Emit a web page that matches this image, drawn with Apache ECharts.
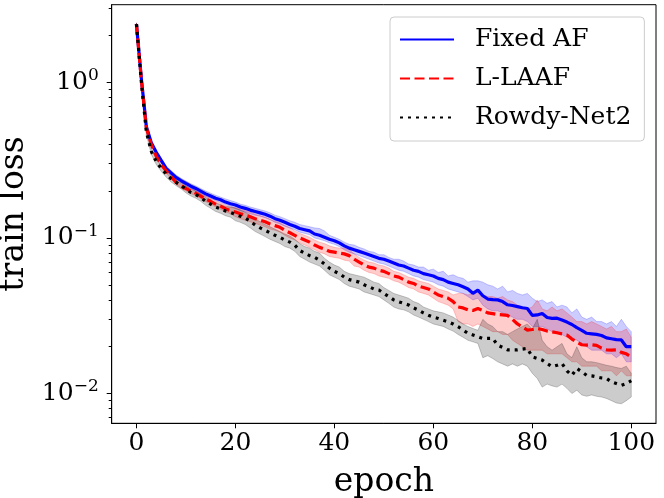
<!DOCTYPE html>
<html>
<head>
<meta charset="utf-8">
<title>train loss</title>
<script src="https://cdn.jsdelivr.net/npm/echarts@6/dist/echarts.min.js"></script>
<style>
  html, body { margin: 0; padding: 0; background: #fff; }
  #main { width: 664px; height: 498px; }
</style>
</head>
<body>
<div id="main"></div>
<script>
var epochs = [];
for (var e = 0; e <= 100; e++) epochs.push(e);

var xTicks = [0, 20, 40, 60, 80, 100];
var yTicks = [0.01, 0.1, 1];
var yMinorTicks = [0.007, 0.008, 0.009, 0.02, 0.03, 0.04, 0.05, 0.06, 0.07, 0.08, 0.09,
    0.2, 0.3, 0.4, 0.5, 0.6, 0.7, 0.8, 0.9, 2, 3];
var yMin = 0.00644, yMax = 3.155;

var fixedMean = [2.37,1.05,0.52,0.41,0.355,0.315,0.280,0.262,0.245,0.234,
    0.224,0.215,0.208,0.200,0.192,0.186,0.180,0.176,0.170,0.166,
    0.163,0.158,0.155,0.151,0.148,0.145,0.142,0.138,0.133,0.130,
    0.126,0.122,0.119,0.115,0.113,0.111,0.106,0.104,0.101,0.098,
    0.096,0.093,0.089,0.086,0.084,0.082,0.080,0.078,0.076,0.074,
    0.073,0.071,0.069,0.067,0.066,0.064,0.062,0.061,0.059,0.058,
    0.057,0.055,0.054,0.052,0.051,0.050,0.0486,0.0470,0.0441,0.0462,
    0.0425,0.0405,0.0402,0.0400,0.0390,0.0372,0.0368,0.0362,0.0356,0.0352,
    0.0318,0.0320,0.0327,0.0308,0.0304,0.0305,0.0297,0.0288,0.0278,0.0265,
    0.0255,0.0244,0.0242,0.0240,0.0236,0.0228,0.0225,0.0222,0.0221,0.0200,
    0.0200];
var fixedLow = [2.33,1.02,0.50,0.40,0.345,0.305,0.272,0.254,0.238,0.227,
    0.217,0.208,0.201,0.193,0.185,0.180,0.174,0.170,0.164,0.160,
    0.155,0.150,0.147,0.143,0.140,0.138,0.135,0.131,0.126,0.123,
    0.119,0.116,0.113,0.109,0.107,0.105,0.100,0.098,0.096,0.093,
    0.091,0.088,0.084,0.081,0.079,0.077,0.075,0.073,0.071,0.069,
    0.068,0.066,0.064,0.062,0.061,0.059,0.057,0.056,0.054,0.053,
    0.052,0.050,0.049,0.047,0.046,0.045,0.044,0.042,0.040,0.041,
    0.037,0.035,0.034,0.034,0.033,0.032,0.031,0.030,0.030,0.029,
    0.027,0.027,0.027,0.026,0.025,0.025,0.024,0.023,0.023,0.022,
    0.021,0.020,0.019,0.019,0.019,0.018,0.018,0.017,0.018,0.016,
    0.016];
var fixedHigh = [2.41,1.08,0.54,0.42,0.365,0.325,0.290,0.271,0.254,0.242,
    0.232,0.223,0.216,0.208,0.200,0.194,0.188,0.183,0.178,0.174,
    0.170,0.165,0.162,0.158,0.155,0.152,0.149,0.145,0.140,0.137,
    0.133,0.129,0.126,0.122,0.120,0.118,0.116,0.115,0.111,0.104,
    0.101,0.098,0.094,0.091,0.090,0.087,0.085,0.082,0.081,0.078,
    0.078,0.075,0.073,0.073,0.071,0.068,0.067,0.065,0.065,0.062,
    0.063,0.060,0.061,0.057,0.058,0.056,0.055,0.052,0.053,0.053,
    0.052,0.050,0.049,0.047,0.049,0.045,0.046,0.044,0.043,0.044,
    0.041,0.039,0.040,0.038,0.039,0.036,0.037,0.036,0.033,0.035,
    0.031,0.030,0.031,0.029,0.029,0.028,0.029,0.027,0.030,0.027,
    0.025];

var laafMean = [2.37,1.03,0.51,0.40,0.335,0.296,0.270,0.248,0.228,0.216,
    0.208,0.200,0.194,0.186,0.178,0.172,0.165,0.160,0.154,0.150,
    0.147,0.143,0.140,0.137,0.133,0.130,0.127,0.123,0.120,0.117,
    0.112,0.108,0.104,0.100,0.097,0.094,0.090,0.087,0.085,0.082,
    0.081,0.080,0.079,0.077,0.073,0.070,0.067,0.065,0.064,0.062,
    0.061,0.059,0.057,0.056,0.054,0.052,0.051,0.049,0.048,0.047,
    0.045,0.043,0.042,0.041,0.039,0.036,0.0355,0.0345,0.0342,0.0352,
    0.0342,0.0330,0.0326,0.0322,0.0320,0.0318,0.0300,0.0280,0.0268,0.0256,
    0.0258,0.0262,0.0258,0.0252,0.0249,0.0246,0.0242,0.0238,0.0224,0.0214,
    0.0206,0.0205,0.0206,0.0204,0.0196,0.0191,0.0190,0.0191,0.0184,0.0180,
    0.0172];
var laafLow = [2.33,1.00,0.49,0.39,0.326,0.288,0.262,0.240,0.221,0.209,
    0.201,0.193,0.187,0.179,0.171,0.165,0.158,0.153,0.147,0.143,
    0.137,0.133,0.130,0.127,0.124,0.121,0.118,0.114,0.112,0.109,
    0.104,0.100,0.097,0.093,0.090,0.087,0.084,0.081,0.079,0.076,
    0.075,0.074,0.072,0.071,0.066,0.065,0.062,0.060,0.059,0.057,
    0.056,0.055,0.053,0.052,0.050,0.048,0.047,0.045,0.044,0.043,
    0.041,0.039,0.038,0.037,0.035,0.029,0.028,0.028,0.027,0.028,
    0.027,0.026,0.025,0.025,0.024,0.024,0.022,0.021,0.020,0.019,
    0.019,0.019,0.019,0.018,0.018,0.018,0.018,0.017,0.016,0.016,
    0.015,0.015,0.015,0.015,0.014,0.014,0.014,0.013,0.014,0.013,
    0.013];
var laafHigh = [2.41,1.06,0.53,0.41,0.345,0.305,0.279,0.257,0.236,0.224,
    0.216,0.208,0.202,0.194,0.186,0.180,0.173,0.168,0.162,0.158,
    0.157,0.153,0.150,0.147,0.142,0.139,0.136,0.132,0.128,0.125,
    0.120,0.116,0.111,0.107,0.104,0.101,0.097,0.094,0.092,0.089,
    0.087,0.086,0.086,0.084,0.079,0.075,0.072,0.070,0.069,0.067,
    0.066,0.064,0.061,0.060,0.058,0.056,0.055,0.053,0.052,0.051,
    0.049,0.047,0.046,0.045,0.043,0.044,0.044,0.043,0.044,0.046,
    0.043,0.042,0.042,0.041,0.042,0.040,0.039,0.037,0.036,0.035,
    0.036,0.040,0.035,0.034,0.036,0.034,0.035,0.033,0.031,0.029,
    0.029,0.028,0.029,0.028,0.027,0.026,0.027,0.025,0.025,0.026,
    0.023];

var rowdyMean = [2.37,1.00,0.48,0.36,0.31,0.28,0.258,0.240,0.228,0.218,
    0.206,0.196,0.190,0.182,0.172,0.165,0.158,0.154,0.149,0.146,
    0.142,0.138,0.134,0.128,0.121,0.116,0.112,0.108,0.104,0.101,
    0.097,0.094,0.090,0.083,0.080,0.077,0.075,0.072,0.068,0.064,
    0.061,0.059,0.056,0.054,0.053,0.052,0.050,0.0486,0.047,0.0463,
    0.044,0.042,0.040,0.0389,0.038,0.0371,0.0355,0.0344,0.033,0.0319,
    0.031,0.0304,0.0296,0.0289,0.028,0.0269,0.0256,0.0244,0.0238,0.0232,
    0.0226,0.0226,0.0226,0.0205,0.0198,0.0191,0.0191,0.0191,0.0193,0.0195,
    0.0172,0.0168,0.0164,0.0156,0.0149,0.0152,0.0156,0.0140,0.0131,0.0145,
    0.0138,0.0131,0.0130,0.0128,0.0126,0.0125,0.0119,0.0116,0.0113,0.0116,
    0.0121];
var rowdyLow = [2.33,0.97,0.46,0.345,0.297,0.268,0.246,0.229,0.217,0.207,
    0.195,0.186,0.180,0.172,0.162,0.155,0.148,0.144,0.139,0.136,
    0.129,0.126,0.122,0.116,0.110,0.106,0.102,0.098,0.095,0.092,
    0.088,0.086,0.082,0.076,0.073,0.070,0.068,0.066,0.062,0.058,
    0.056,0.054,0.051,0.049,0.048,0.047,0.045,0.044,0.043,0.042,
    0.040,0.038,0.036,0.035,0.0345,0.0335,0.032,0.031,0.030,0.029,
    0.028,0.0275,0.027,0.026,0.0252,0.024,0.023,0.022,0.0215,0.021,
    0.017,0.0175,0.0168,0.016,0.0155,0.015,0.0155,0.0150,0.0155,0.0150,
    0.0135,0.0125,0.0110,0.0115,0.0112,0.0110,0.0115,0.0108,0.0100,0.0105,
    0.0098,0.0096,0.0098,0.0096,0.0095,0.0093,0.0090,0.0087,0.0086,0.0090,
    0.0095];
var rowdyHigh = [2.41,1.03,0.50,0.375,0.323,0.292,0.270,0.251,0.239,0.229,
    0.217,0.206,0.200,0.192,0.182,0.176,0.168,0.164,0.159,0.158,
    0.155,0.151,0.146,0.140,0.133,0.127,0.122,0.118,0.114,0.110,
    0.106,0.103,0.098,0.092,0.088,0.086,0.082,0.080,0.074,0.070,
    0.067,0.065,0.061,0.059,0.058,0.057,0.056,0.054,0.052,0.051,
    0.048,0.046,0.044,0.043,0.042,0.041,0.039,0.038,0.036,0.035,
    0.034,0.0335,0.033,0.032,0.031,0.0295,0.028,0.027,0.0262,0.0255,
    0.030,0.028,0.027,0.025,0.025,0.024,0.025,0.026,0.027,0.028,
    0.026,0.030,0.022,0.020,0.019,0.020,0.021,0.018,0.017,0.020,
    0.017,0.016,0.016,0.0158,0.0155,0.0152,0.0150,0.0147,0.0145,0.0150,
    0.0135];

var FONT = 'DejaVu Serif';

function pairs(vals) {
    return epochs.map(function (x, i) { return [x, vals[i]]; });
}

// shaded band between low and high, drawn as one polygon via the axis scales
function band(name, low, high, fill) {
    return {
        name: name,
        type: 'custom',
        z: 1,
        silent: true,
        data: [[50, 0.05]],
        renderItem: function (params, api) {
            var pts = [];
            for (var i = 0; i < epochs.length; i++) pts.push(api.coord([epochs[i], high[i]]));
            for (var j = epochs.length - 1; j >= 0; j--) pts.push(api.coord([epochs[j], low[j]]));
            return {
                type: 'polygon',
                shape: { points: pts },
                style: { fill: fill, stroke: fill, lineWidth: 1 }
            };
        }
    };
}

function line(name, vals, color, dash) {
    return {
        name: name,
        type: 'line',
        z: 3,
        data: pairs(vals),
        symbol: 'none',
        showSymbol: false,
        itemStyle: { color: color },
        lineStyle: { color: color, width: 3.2, type: dash }
    };
}

var chart = echarts.init(document.getElementById('main'));

var option = {
    animation: false,
    backgroundColor: '#fff',
    grid: {
        left: 111.7, right: 8, top: 4.7, bottom: 74.7,
        outerBoundsMode: 'none',
        containLabel: false,
        show: true, borderColor: '#000', borderWidth: 1
    },
    legend: {
        data: ['Fixed AF', 'L-LAAF', 'Rowdy-Net2'],
        orient: 'vertical',
        left: 390, top: 17,
        padding: [10, 13, 11, 9],
        itemWidth: 54, itemHeight: 14, itemGap: 14,
        itemStyle: { opacity: 0 },
        formatter: function (name) { return '  ' + name; },
        backgroundColor: 'rgba(255,255,255,0.8)',
        borderColor: '#cccccc', borderWidth: 1, borderRadius: 4,
        textStyle: { fontFamily: FONT, fontSize: 25, color: '#000' }
    },
    xAxis: {
        type: 'value',
        min: -5, max: 105,
        name: 'epoch',
        nameLocation: 'middle',
        nameGap: 43,
        nameTextStyle: { fontFamily: FONT, fontSize: 33, color: '#000' },
        axisLine: { show: true, onZero: false, lineStyle: { color: '#000', width: 1 } },
        axisTick: { show: true, customValues: xTicks, length: 5, lineStyle: { color: '#000', width: 1 } },
        axisLabel: { customValues: xTicks, fontFamily: FONT, fontSize: 25, color: '#000', margin: 8 },
        splitLine: { show: false }
    },
    yAxis: [{
        type: 'log',
        logBase: 10,
        min: yMin, max: yMax,
        name: 'train loss',
        nameLocation: 'middle',
        nameRotate: 90,
        nameGap: 80,
        nameTextStyle: { fontFamily: FONT, fontSize: 33, color: '#000' },
        axisLine: { show: true, onZero: false, lineStyle: { color: '#000', width: 1 } },
        axisTick: { show: true, customValues: yTicks, length: 5, lineStyle: { color: '#000', width: 1 } },
        axisLabel: {
            customValues: yTicks,
            margin: 13,
            formatter: function (v) {
                var p = Math.round(Math.log10(v));
                return '{b|10}{s|' + (p < 0 ? '\u2212' + (-p) : p) + '}';
            },
            rich: {
                b: { fontFamily: FONT, fontSize: 25, color: '#000', lineHeight: 30 },
                s: { fontFamily: FONT, fontSize: 17, color: '#000', lineHeight: 17, verticalAlign: 'top' }
            }
        },
        splitLine: { show: false }
    }, {
        type: 'log',
        logBase: 10,
        min: yMin, max: yMax,
        position: 'left',
        axisLine: { show: false, onZero: false },
        axisTick: { show: true, customValues: yMinorTicks, length: 3, lineStyle: { color: '#000', width: 1 } },
        axisLabel: { show: false },
        splitLine: { show: false }
    }],
    series: [
        band('Fixed AF band', fixedLow, fixedHigh, 'rgba(0,0,255,0.2)'),
        band('L-LAAF band', laafLow, laafHigh, 'rgba(255,0,0,0.2)'),
        band('Rowdy-Net2 band', rowdyLow, rowdyHigh, 'rgba(0,0,0,0.2)'),
        line('Fixed AF', fixedMean, '#0000ff', 'solid'),
        line('L-LAAF', laafMean, '#ff0000', [10, 4.5]),
        line('Rowdy-Net2', rowdyMean, '#000000', [3, 5])
    ]
};

if (option && typeof option === "object") {
    chart.setOption(option, true);
}
</script>
</body>
</html>
